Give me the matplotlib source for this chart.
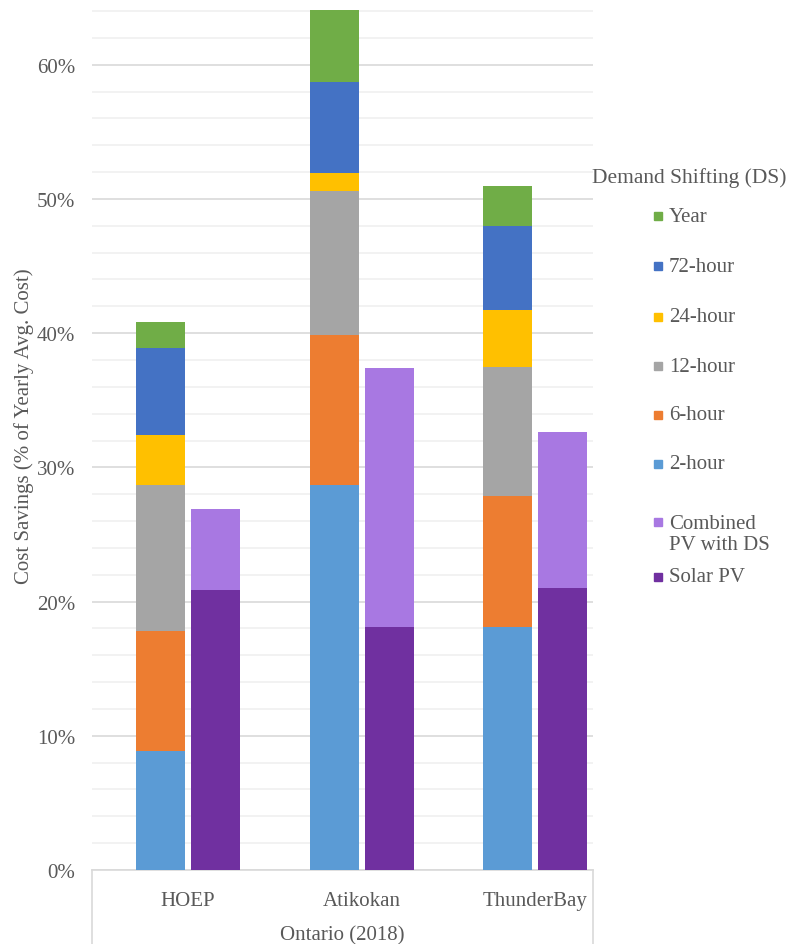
import numpy as np
import matplotlib
matplotlib.use('Agg')
import matplotlib.pyplot as plt
from matplotlib.patches import Rectangle
from matplotlib.lines import Line2D

plt.rcParams['font.family'] = ['Liberation Serif', 'DejaVu Serif']
TEXT = '#595959'
FS = 15

# Ontario 2018 sites
sites = ['HOEP', 'Atikokan', 'ThunderBay']
group_label = 'Ontario (2018)'

# Demand shifting: savings added by each window (fraction of yearly avg. cost)
ds_series = ['2-hour', '6-hour', '12-hour', '24-hour', '72-hour', 'Year']
ds_2h = [0.089, 0.287, 0.181]
ds_6h = [0.089, 0.112, 0.098]
ds_12h = [0.109, 0.107, 0.096]
ds_24h = [0.037, 0.013, 0.042]
ds_72h = [0.065, 0.068, 0.063]
ds_year = [0.019, 0.054, 0.030]
ds_colors = ['#5B9BD5', '#ED7D31', '#A5A5A5', '#FFC000', '#4472C4', '#70AD47']

# Solar PV alone, plus the extra from combining PV with demand shifting
pv_series = ['Solar PV', 'Combined\nPV with DS']
pv_solar = [0.209, 0.181, 0.210]
pv_combined = [0.060, 0.193, 0.116]
pv_colors = ['#7030A0', '#A878E2']

y_ticks = [0, 0.1, 0.2, 0.3, 0.4, 0.5, 0.6]

fig = plt.figure(figsize=(7.92, 9.45), dpi=100)
ax = fig.add_axes([0.1162, 0.0783, 0.6325, 0.9217])

x = np.arange(len(sites))
w = 0.283

bottom = np.zeros(len(sites))
for vals, col in zip([ds_2h, ds_6h, ds_12h, ds_24h, ds_72h, ds_year], ds_colors):
    ax.bar(x - 0.158, vals, w, bottom=bottom, color=col, zorder=3)
    bottom += np.array(vals)

bottom = np.zeros(len(sites))
for vals, col in zip([pv_solar, pv_combined], pv_colors):
    ax.bar(x + 0.16, vals, w, bottom=bottom, color=col, zorder=3)
    bottom += np.array(vals)

ax.set_xlim(-0.553, 2.334)
ax.set_ylim(0, 0.649)
ax.set_yticks(y_ticks)
ax.set_yticklabels([f'{int(round(t * 100))}%' for t in y_ticks])
ax.set_yticks(np.arange(0.02, 0.65, 0.02), minor=True)
ax.grid(axis='y', which='major', color='#D9D9D9', linewidth=1.2, zorder=0)
ax.grid(axis='y', which='minor', color='#F0F0F0', linewidth=1.2, zorder=0)
ax.tick_params(axis='y', which='both', length=0, pad=12, labelsize=FS, labelcolor=TEXT)

for s in ['top', 'right', 'left']:
    ax.spines[s].set_visible(False)
ax.spines['bottom'].set_color('#D9D9D9')
ax.spines['bottom'].set_linewidth(1.2)

# category axis: site names, group name and the box lines
ax.set_xticks(x)
ax.set_xticklabels(sites)
ax.tick_params(axis='x', length=0, pad=15, labelsize=FS, labelcolor=TEXT)
ax.text(0.5, -0.074, group_label, transform=ax.transAxes, ha='center', va='center',
        fontsize=FS, color=TEXT)
for xb in [0, 1]:
    ax.add_line(Line2D([xb, xb], [0, -0.09], transform=ax.transAxes, color='#D9D9D9',
                       linewidth=1.2, clip_on=False))

fig.text(0.030, 1 - 426 / 945, 'Cost Savings (% of Yearly Avg. Cost)', rotation=90,
         ha='center', va='center', fontsize=FS, color=TEXT)

# legend, top to bottom
fig.text(592 / 792, 1 - 178 / 945, 'Demand Shifting (DS)', ha='left', va='center',
         fontsize=15.5, color=TEXT)
leg_labels = ds_series[::-1] + pv_series[::-1]
leg_colors = ds_colors[::-1] + pv_colors[::-1]
leg_y = [217, 267, 318, 367, 416, 465, 523, 578]
for lab, col, yp in zip(leg_labels, leg_colors, leg_y):
    fy = 1 - yp / 945
    fig.patches.append(Rectangle((654 / 792, fy - 4 / 945), 8 / 792, 8 / 945,
                                 transform=fig.transFigure, color=col, figure=fig))
    if '\n' in lab:
        # two-line entry: marker sits on the first line
        fig.text(669 / 792, fy + 8 / 945, lab, ha='left', va='top',
                 fontsize=FS, color=TEXT, linespacing=1.12)
    else:
        fig.text(669 / 792, fy, lab, ha='left', va='center', fontsize=FS, color=TEXT)

fig.savefig('out.png', dpi=100)
